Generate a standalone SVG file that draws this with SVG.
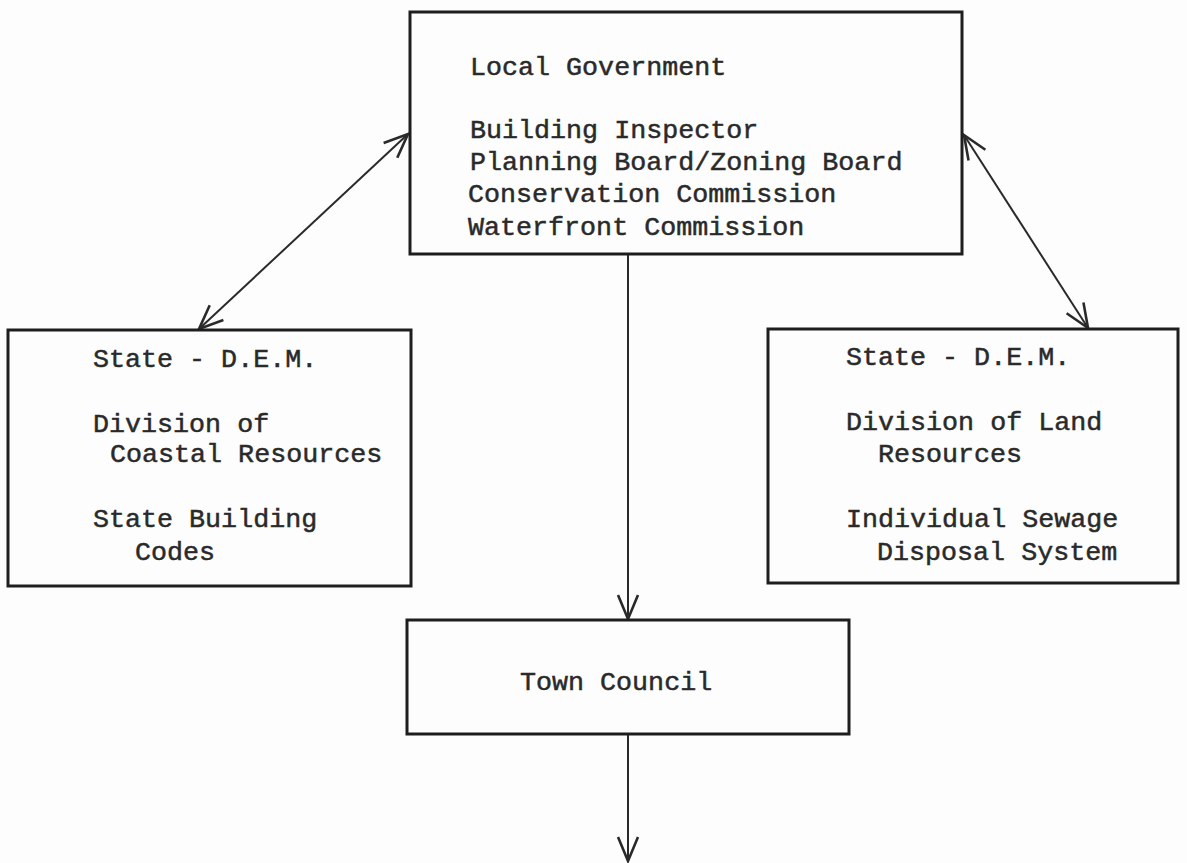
<svg xmlns="http://www.w3.org/2000/svg" width="1187" height="863" viewBox="0 0 1187 863">
<style>
.box{fill:none;stroke:#1e1e1e;stroke-width:3}
.t{font-family:"Liberation Mono","Courier New",monospace;font-size:26.7px;fill:#2a2a2a;stroke:#2a2a2a;stroke-width:0.5}
.c{fill:none;stroke:#2a2a2a;stroke-width:2}
</style>
<defs>
<marker id="ah" viewBox="-26 -13 28 26" markerWidth="28" markerHeight="26" refX="0" refY="0" orient="auto-start-reverse" markerUnits="userSpaceOnUse">
<path d="M-24,-10 L0,0 L-24,10" fill="none" stroke="#2a2a2a" stroke-width="2.6"/>
</marker>
</defs>
<rect width="1187" height="863" fill="#fdfdfd"/>
<g id="connectors">
<line class="c" x1="199" y1="329" x2="408" y2="134" marker-start="url(#ah)" marker-end="url(#ah)"/>
<line class="c" x1="964" y1="135" x2="1088" y2="328" marker-start="url(#ah)" marker-end="url(#ah)"/>
<line class="c" x1="628" y1="254" x2="628" y2="619" marker-end="url(#ah)"/>
<line class="c" x1="628" y1="734" x2="628" y2="861" marker-end="url(#ah)"/>
</g>
<g id="local-government">
<rect class="box" x="410" y="12" width="552" height="242"/>
<text class="t" x="470" y="75">Local Government</text>
<text class="t" x="470" y="138">Building Inspector</text>
<text class="t" x="470" y="170">Planning Board/Zoning Board</text>
<text class="t" x="468" y="202">Conservation Commission</text>
<text class="t" x="468" y="235">Waterfront Commission</text>
</g>
<g id="state-dem-coastal">
<rect class="box" x="8" y="330" width="403" height="256"/>
<text class="t" x="93" y="367">State - D.E.M.</text>
<text class="t" x="93" y="432">Division of</text>
<text class="t" x="110" y="462">Coastal Resources</text>
<text class="t" x="93" y="527">State Building</text>
<text class="t" x="135" y="560">Codes</text>
</g>
<g id="state-dem-land">
<rect class="box" x="768" y="329" width="410" height="254"/>
<text class="t" x="846" y="365">State - D.E.M.</text>
<text class="t" x="846" y="430">Division of Land</text>
<text class="t" x="878" y="462">Resources</text>
<text class="t" x="846" y="527">Individual Sewage</text>
<text class="t" x="877" y="560">Disposal System</text>
</g>
<g id="town-council">
<rect class="box" x="407" y="620" width="442" height="114"/>
<text class="t" x="520" y="690">Town Council</text>
</g>
</svg>
